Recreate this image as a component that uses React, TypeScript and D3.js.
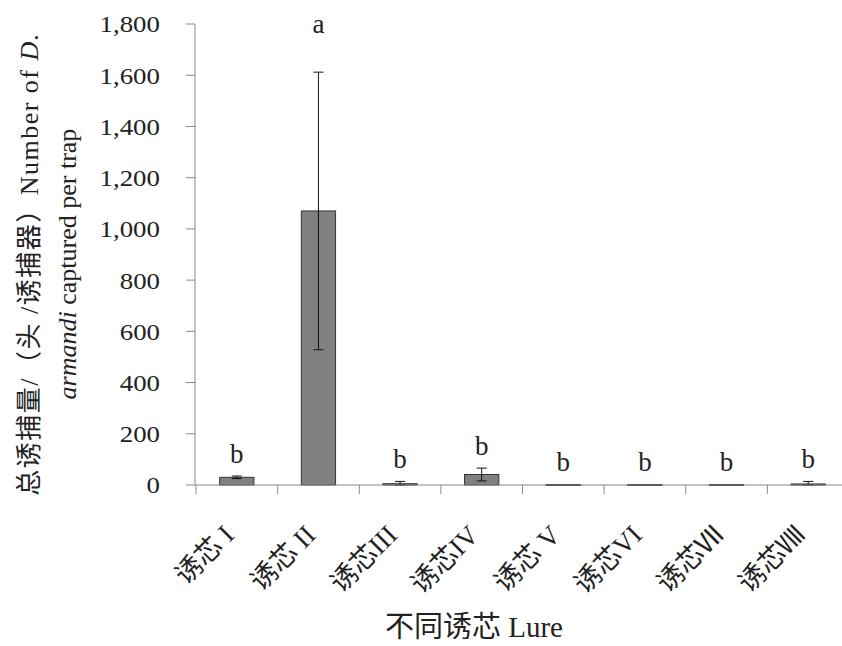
import * as d3 from 'd3'

const lures = ['诱芯 I', '诱芯 II', '诱芯III', '诱芯IV', '诱芯 V', '诱芯VI', '诱芯Ⅶ', '诱芯Ⅷ']
const means = [30, 1070, 5, 41, 2, 2, 2, 4]
const errors = [5, 542, 9, 25, 0, 0, 0, 10]
const letters = ['b', 'a', 'b', 'b', 'b', 'b', 'b', 'b']
const yTicks = [0, 200, 400, 600, 800, 1000, 1200, 1400, 1600, 1800]

const W = 842
const H = 646
const margin = { left: 195, right: 0, top: 24, bottom: 161 }
const font = '"Liberation Serif", "Times New Roman", "Noto Sans CJK SC", serif'

export default function App() {
  const x = d3
    .scaleBand<string>()
    .domain(lures)
    .range([margin.left + 1, 849])
    .paddingInner(0.58)
    .paddingOuter(0.29)
  const y = d3.scaleLinear().domain([0, 1800]).range([H - margin.bottom, margin.top])
  const fmt = d3.format(',')
  const step = x.step()
  const x0 = margin.left + 1
  const baseY = y(0)

  return (
    <svg
      width={W}
      height={H}
      style={{ position: 'absolute', left: 0, top: 0, background: '#fff' }}
      fontFamily={font}
    >
      {/* y axis */}
      <line x1={x0 - 1} x2={x0 - 1} y1={y(1800)} y2={baseY} stroke="#888" />
      {yTicks.map(t => (
        <g key={t}>
          <line x1={x0 - 10} x2={x0 - 1} y1={y(t)} y2={y(t)} stroke="#888" />
          <text
            transform={`translate(160,${y(t)}) scale(1.12,1)`}
            dy="0.35em"
            textAnchor="end"
            fontSize={24}
            fill="#222"
          >
            {fmt(t)}
          </text>
        </g>
      ))}

      {/* bars */}
      {lures.map((l, i) => {
        const cx = (x(l) ?? 0) + x.bandwidth() / 2
        const top = means[i] + errors[i]
        const lo = Math.max(0, means[i] - errors[i])
        const ly = top > 1500 ? y(1800) + 9 : y(top) - 13
        return (
          <g key={l}>
            <rect
              x={x(l)}
              y={y(means[i])}
              width={x.bandwidth()}
              height={Math.max(1, baseY - y(means[i]))}
              fill="#808080"
              stroke="#333"
              strokeWidth={1}
            />
            {errors[i] > 0 && (
              <g stroke="#111" strokeWidth={1}>
                <line x1={cx} x2={cx} y1={y(top)} y2={y(lo)} />
                <line x1={cx - 5} x2={cx + 5} y1={y(top)} y2={y(top)} />
                <line x1={cx - 5} x2={cx + 5} y1={y(lo)} y2={y(lo)} />
              </g>
            )}
            <text x={cx} y={ly} textAnchor="middle" fontSize={27} fill="#222">
              {letters[i]}
            </text>
          </g>
        )
      })}

      {/* x axis */}
      <line x1={x0 - 1} x2={849} y1={baseY} y2={baseY} stroke="#888" />
      {d3.range(lures.length + 1).map(k => (
        <line
          key={k}
          x1={x0 + k * step}
          x2={x0 + k * step}
          y1={baseY}
          y2={baseY + 9}
          stroke="#888"
        />
      ))}
      {lures.map(l => {
        const cx = (x(l) ?? 0) + x.bandwidth() / 2
        return (
          <text
            key={l}
            transform={`translate(${cx - 8},${baseY + 45}) rotate(-45)`}
            textAnchor="end"
            dy="0.35em"
            fontSize={27}
            fill="#222"
          >
            {l}
          </text>
        )
      })}

      {/* titles */}
      <text x={474} y={637} textAnchor="middle" fontSize={29} fill="#222">
        不同诱芯 Lure
      </text>
      <g transform={`translate(0, 264) rotate(-90)`} fontSize={26} fill="#222">
        <text x={0} y={38} textAnchor="middle" letterSpacing={1.5}>
          总诱捕量/（头 /诱捕器）Number of <tspan fontStyle="italic">D.</tspan>
        </text>
        <text x={0} y={76} textAnchor="middle">
          <tspan fontStyle="italic">armandi</tspan> captured per trap
        </text>
      </g>
    </svg>
  )
}
